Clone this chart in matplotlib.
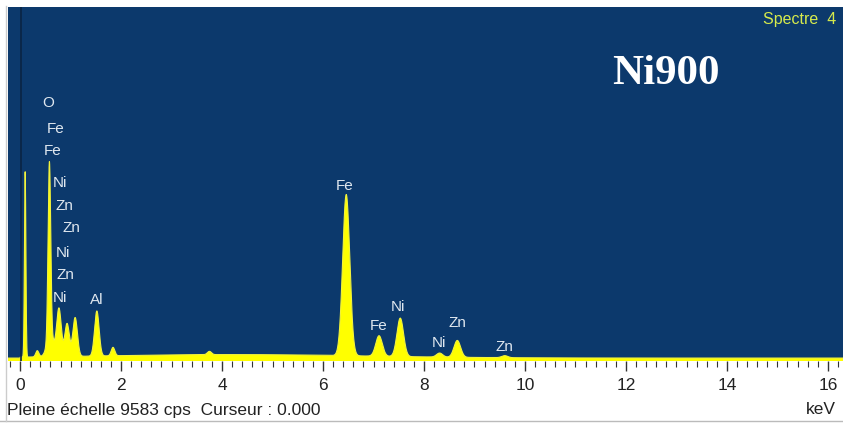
import numpy as np
import matplotlib
matplotlib.use("Agg")
import matplotlib.pyplot as plt
from matplotlib.ticker import MultipleLocator

# peak table: centre (keV), height (cps), sigma (keV)
peak_kev = [0.10, 0.34, 0.58, 0.60, 0.77, 0.93, 1.09, 1.52, 1.84, 3.75,
            6.46, 7.11, 7.53, 8.31, 8.66, 9.60, 4.2]
peak_cps = [5060, 170, 4800, 550, 1300, 900, 1060, 1230, 230, 90,
            4400, 560, 1050, 110, 460, 55, 95]
peak_sig = [0.014, 0.03, 0.026, 0.07, 0.045, 0.045, 0.045, 0.045, 0.035, 0.04,
            0.07, 0.065, 0.065, 0.06, 0.065, 0.06, 2.6]

full_scale = 9583

# element markers: (label, keV, cps)
lbl_text = ["O", "Fe", "Fe", "Ni", "Zn", "Zn", "Ni", "Zn", "Ni", "Al",
            "Fe", "Fe", "Ni", "Ni", "Zn", "Zn"]
lbl_kev = [0.55, 0.70, 0.64, 0.79, 0.87, 1.01, 0.85, 0.89, 0.79, 1.51,
           6.43, 7.10, 7.48, 8.29, 8.66, 9.59]
lbl_cps = [6960, 6260, 5640, 4790, 4160, 3560, 2870, 2270, 1630, 1580,
           4710, 870, 1390, 410, 950, 300]

energy = np.linspace(-0.3, 16.5, 6000)
counts = np.zeros_like(energy)
for c, h, s in zip(peak_kev, peak_cps, peak_sig):
    counts += h * np.exp(-0.5 * ((energy - c) / s) ** 2)
counts[energy < 0.0] = 0

bg = '#0c396c'
fig = plt.figure(figsize=(8.43, 4.26), dpi=100)
ax = fig.add_axes([8/843, (426-361)/426, 835/843, 354/426])
ax.set_facecolor(bg)
ybot = -80
ax.fill_between(energy, ybot, counts, color='#ffff00', lw=0)
ax.plot(energy, counts, color='#f2f23c', lw=0.8)
ax.axvline(0.02, color='#0a2444', lw=1.2)

ax.set_xlim(-0.24, 16.3)
ax.set_ylim(ybot, full_scale)
ax.set_yticks([])
ax.xaxis.set_major_locator(MultipleLocator(2))
ax.xaxis.set_minor_locator(MultipleLocator(0.2))
ax.tick_params(axis='x', which='major', length=7, width=1, color='#333333',
               labelsize=12.5, pad=5, labelcolor='#222222')
ax.tick_params(axis='x', which='minor', length=4, width=0.8, color='#333333')
for lab in ax.get_xticklabels():
    lab.set_fontfamily('Liberation Sans')
for sp in ax.spines.values():
    sp.set_visible(False)

for t, x, y in zip(lbl_text, lbl_kev, lbl_cps):
    ax.text(x, y, t, color='#dfe7ef', fontsize=11, family='Liberation Sans',
            ha='center', va='center')

ax.text(0.992, 0.985, "Spectre  4", transform=ax.transAxes, color='#d6ea4c',
        fontsize=11.5, family='Liberation Sans', ha='right', va='top')
ax.text(0.788, 0.81, "Ni900", transform=ax.transAxes, color='white',
        fontsize=31, fontweight='bold', family='Liberation Serif',
        ha='center', va='center')

fig.text(7/843, 1 - 410/426, "Pleine échelle %d cps  Curseur : 0.000" % full_scale,
         fontsize=12.5, family='Liberation Sans', color='#222222', va='center')
fig.text(836/843, 1 - 410/426, "keV", fontsize=12.5, family='Liberation Sans',
         color='#222222', va='center', ha='right')
fig.add_artist(plt.Line2D([0, 1], [1 - 421/426] * 2, color='#bbbbbb', lw=1))
fig.add_artist(plt.Line2D([6/843] * 2, [1 - 421/426, 1 - 6/426], color='#cccccc', lw=1))

fig.savefig('out.png', dpi=100)
